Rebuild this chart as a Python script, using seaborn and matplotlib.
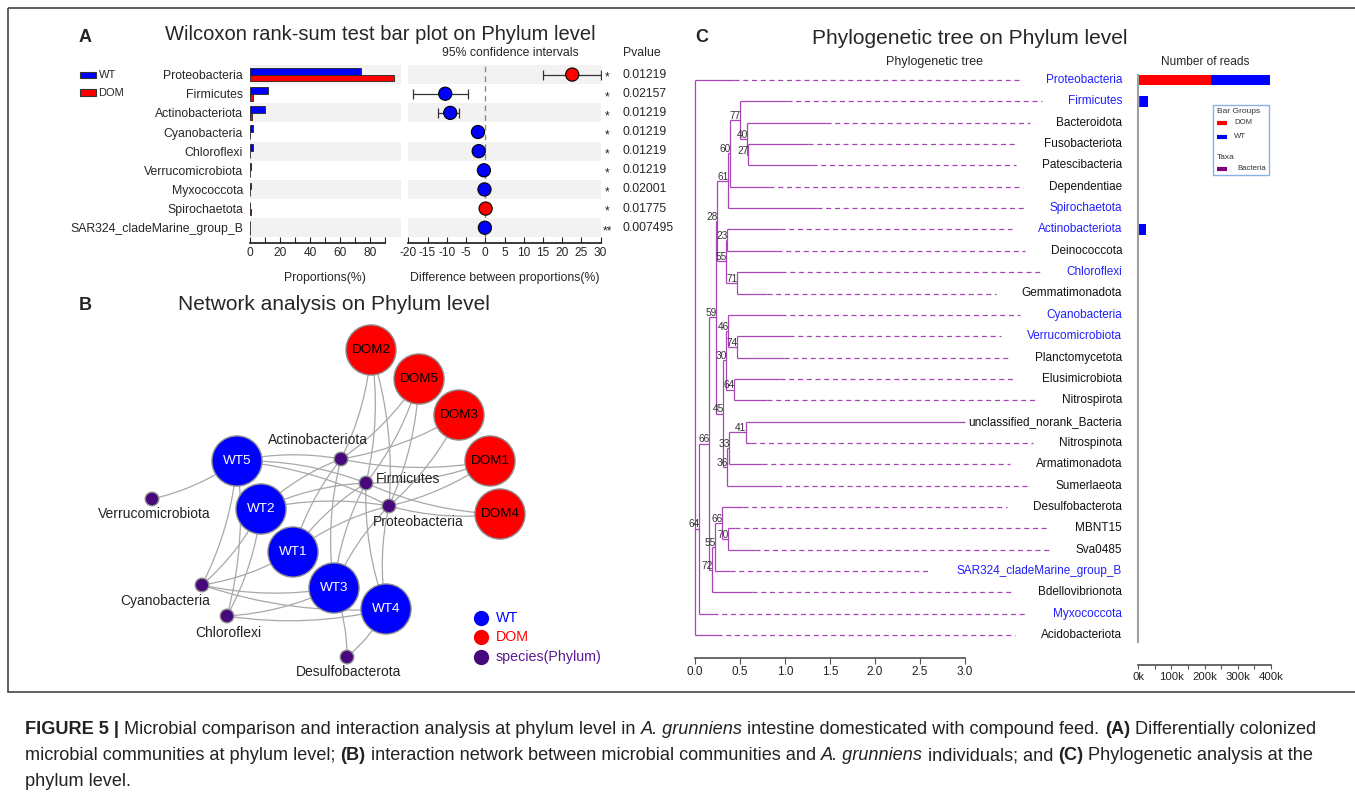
import numpy as np
import pandas as pd
import seaborn as sns
import matplotlib
matplotlib.use("Agg")
import matplotlib.pyplot as plt
from matplotlib.patches import Rectangle, FancyArrowPatch
from matplotlib.transforms import blended_transform_factory

# %% data - panel A (Wilcoxon rank-sum test)
phyla_a = ["Proteobacteria", "Firmicutes", "Actinobacteriota", "Cyanobacteria",
           "Chloroflexi", "Verrucomicrobiota", "Myxococcota", "Spirochaetota",
           "SAR324_cladeMarine_group_B"]
prop_wt = [73.8, 12.2, 10.0, 2.0, 1.8, 0.6, 0.5, 0.05, 0.15]
prop_dom = [96.0, 1.8, 1.1, 0.15, 0.1, 0.05, 0.05, 0.35, 0.02]
diff_mean = [22.6, -10.4, -9.1, -1.9, -1.7, -0.35, -0.2, 0.1, -0.1]
ci_low = [15.0, -18.8, -12.2, -2.3, -2.1, -0.6, -0.4, 0.0, -0.2]
ci_high = [30.0, -4.4, -6.8, -1.5, -1.3, -0.1, 0.0, 0.2, 0.0]
p_text = ["0.01219", "0.02157", "0.01219", "0.01219", "0.01219", "0.01219",
          "0.02001", "0.01775", "0.007495"]
p_stars = ["*", "*", "*", "*", "*", "*", "*", "*", "**"]

# %% data - panel B (network)
net_nodes = ["DOM2", "DOM5", "DOM3", "DOM1", "DOM4", "WT5", "WT2", "WT1", "WT3", "WT4",
             "Actinobacteriota", "Firmicutes", "Proteobacteria", "Verrucomicrobiota",
             "Cyanobacteria", "Chloroflexi", "Desulfobacterota"]
net_kind = ["DOM"] * 5 + ["WT"] * 5 + ["species"] * 7
node_x = [371, 419, 459, 490, 500, 237, 261, 293, 334, 386, 341, 366, 389, 152, 202, 227, 347]
node_y = [350, 379, 415, 461, 514, 461, 509, 552, 588, 609, 459, 483, 506, 499, 585, 616, 657]
link_species = ["Verrucomicrobiota", "Cyanobacteria", "Chloroflexi", "Desulfobacterota",
                "Actinobacteriota", "Firmicutes", "Proteobacteria"]
link_samples = [["WT5"],
                ["WT5", "WT2", "WT1", "WT3", "WT4"],
                ["WT5", "WT2", "WT3", "WT4"],
                ["WT3", "WT4"],
                ["WT5", "WT2", "WT1", "WT3", "DOM2", "DOM5", "DOM3", "DOM1"],
                ["WT5", "WT2", "WT1", "WT3", "WT4", "DOM2", "DOM5", "DOM1", "DOM4"],
                ["WT5", "WT2", "WT1", "WT3", "WT4", "DOM2", "DOM5", "DOM3", "DOM1", "DOM4"]]

# %% data - panel C (tree + reads)
tree_leaves = ["Proteobacteria", "Firmicutes", "Bacteroidota", "Fusobacteriota",
               "Patescibacteria", "Dependentiae", "Spirochaetota", "Actinobacteriota",
               "Deinococcota", "Chloroflexi", "Gemmatimonadota", "Cyanobacteria",
               "Verrucomicrobiota", "Planctomycetota", "Elusimicrobiota", "Nitrospirota",
               "unclassified_norank_Bacteria", "Nitrospinota", "Armatimonadota",
               "Sumerlaeota", "Desulfobacterota", "MBNT15", "Sva0485",
               "SAR324_cladeMarine_group_B", "Bdellovibrionota", "Myxococcota",
               "Acidobacteriota"]
tip_depth = [0.43, 1.02, 1.46, 1.26, 1.30, 0.82, 1.35, 0.94, 0.91, 0.96, 0.80, 0.96,
             1.04, 0.99, 0.94, 0.80, 3.0, 0.62, 0.74, 0.91, 0.53, 0.44, 0.67, 0.39,
             0.63, 0.20, 0.24]
node_id = ["n27", "n40", "n77", "n60", "n61", "n23", "n71", "n55a", "n28", "n74", "n46",
           "n64b", "n30", "n41", "n33", "n36", "n45", "n59", "n70", "n66b", "n55c",
           "n72", "n66", "n64", "root"]
node_depth = [0.589, 0.578, 0.50, 0.389, 0.363, 0.35, 0.463, 0.341, 0.241, 0.463, 0.37,
              0.437, 0.344, 0.563, 0.378, 0.352, 0.314, 0.236, 0.363, 0.297, 0.226,
              0.189, 0.152, 0.048, 0.0]
node_boot = ["27", "40", "77", "60", "61", "23", "71", "55", "28", "74", "46", "64", "30",
             "41", "33", "36", "45", "59", "70", "66", "55", "72", "66", "64", ""]
node_kids = [["Fusobacteriota", "Patescibacteria"], ["Bacteroidota", "n27"],
             ["Firmicutes", "n40"], ["n77", "Dependentiae"], ["n60", "Spirochaetota"],
             ["Actinobacteriota", "Deinococcota"], ["Chloroflexi", "Gemmatimonadota"],
             ["n23", "n71"], ["n61", "n55a"],
             ["Verrucomicrobiota", "Planctomycetota"], ["Cyanobacteria", "n74"],
             ["Elusimicrobiota", "Nitrospirota"], ["n46", "n64b"],
             ["unclassified_norank_Bacteria", "Nitrospinota"], ["n41", "Armatimonadota"],
             ["n33", "Sumerlaeota"], ["n30", "n36"], ["n28", "n45"],
             ["MBNT15", "Sva0485"], ["Desulfobacterota", "n70"],
             ["n66b", "SAR324_cladeMarine_group_B"], ["n55c", "Bdellovibrionota"],
             ["n59", "n72"], ["n66", "Myxococcota"],
             ["Proteobacteria", "n64", "Acidobacteriota"]]
# number of reads (k)
reads_dom = [219, 4, 0.3, 0.1, 0.1, 0.05, 0.4, 2.5, 0, 0.2, 0.1, 0.2, 0.1, 0.1, 0,
             0.05, 0, 0, 0, 0, 0.1, 0, 0, 0, 0.1, 0.1, 0.1]
reads_wt = [179, 26, 0.5, 0.2, 0.3, 0.2, 0.1, 20, 0.2, 2.5, 0.8, 3.0, 1.2, 0.5, 0.1,
            0.3, 0.1, 0.1, 0.2, 0.1, 0.6, 0.1, 0.1, 0.3, 0.6, 1.0, 0.7]

BLUE, RED, PURPLE = "#0000ff", "#ff0000", "#46087a"
TREE = "#a844b8"
PT = 72 / 100  # points per pixel at dpi 100

sns.set_theme(style="white")
plt.rcParams["font.family"] = ["Liberation Sans", "DejaVu Sans"]
plt.rcParams["axes.unicode_minus"] = False

W, H = 1355, 798
fig = plt.figure(figsize=(W / 100, H / 100), dpi=100)


def px_axes(x0, y0, x1, y1, z=1):
    ax = fig.add_axes([x0 / W, 1 - y1 / H, (x1 - x0) / W, (y1 - y0) / H], zorder=z)
    ax.patch.set_alpha(0)
    return ax


ov = px_axes(0, 0, W, H, z=10)
ov.set_xlim(0, W)
ov.set_ylim(H, 0)
ov.axis("off")
ov.add_patch(Rectangle((7.5, 8), W, 684, fill=False, ec="#444444", lw=1.2))

# %% Panel A - bars
n = len(phyla_a)
rows = np.arange(n)
dfa = pd.DataFrame({"phylum": phyla_a * 2,
                    "group": ["WT"] * n + ["DOM"] * n,
                    "value": prop_wt + prop_dom})
axb = px_axes(250, 65, 400.7, 237.3)
sns.barplot(data=dfa, x="value", y="phylum", hue="group", hue_order=["WT", "DOM"],
            palette={"WT": BLUE, "DOM": RED}, saturation=1, width=0.72,
            edgecolor="#222222", linewidth=0.6, errorbar=None, legend=False,
            orient="h", ax=axb)
for i in rows[::2]:
    axb.axhspan(i - 0.5, i + 0.5, color="#f2f2f2", zorder=0, lw=0)
axb.set_xlim(0, 100.5)
axb.set_ylim(n - 0.5, -0.5)
for s in ["left", "top", "right"]:
    axb.spines[s].set_visible(False)
axb.spines["bottom"].set_position(("outward", 6 * PT))
axb.spines["bottom"].set_bounds(0, 90)
axb.spines["bottom"].set_color("#222222")
axb.set_xticks(np.arange(0, 91, 10))
axb.set_xticklabels([str(v) if v % 20 == 0 else "" for v in range(0, 91, 10)])
axb.tick_params(axis="x", bottom=True, direction="in", length=4, width=0.8,
                labelsize=8.6, pad=3, color="#222222")
axb.tick_params(axis="y", length=0, pad=5, labelsize=8.8)
axb.set_ylabel("")
axb.set_xlabel("Proportions(%)", fontsize=8.8, labelpad=9)

# %% Panel A - confidence intervals
axc = px_axes(408.3, 65, 600.7, 237.3)
for i in rows[::2]:
    axc.axhspan(i - 0.5, i + 0.5, color="#f2f2f2", zorder=0, lw=0)
axc.axvline(0, color="#8a8a8a", lw=1, ls=(0, (4, 3)), zorder=1)
d = np.array(diff_mean)
axc.errorbar(d, rows, xerr=[d - np.array(ci_low), np.array(ci_high) - d], fmt="none",
             ecolor="#333333", elinewidth=0.9, capsize=3.6, capthick=0.9, zorder=2)
direction = ["DOM" if v > 0 else "WT" for v in diff_mean]
sns.scatterplot(x=d, y=rows, hue=direction, palette={"WT": BLUE, "DOM": RED}, s=90,
                edgecolor="black", linewidth=0.8, legend=False, zorder=3, ax=axc)
axc.set_xlim(-20, 30)
axc.set_ylim(n - 0.5, -0.5)
axc.set_yticks([])
for s in ["left", "top", "right"]:
    axc.spines[s].set_visible(False)
axc.spines["bottom"].set_position(("outward", 6 * PT))
axc.spines["bottom"].set_color("#222222")
axc.set_xticks(np.arange(-20, 31, 5))
axc.tick_params(axis="x", bottom=True, direction="in", length=4, width=0.8,
                labelsize=8.6, pad=3, color="#222222")
axc.set_xlabel("Difference between proportions(%)", fontsize=8.8, labelpad=9)
tr = blended_transform_factory(axc.transAxes, axc.transData)
for i in rows:
    axc.text(1.034, i + 0.17, p_stars[i], transform=tr, ha="center", va="center",
             fontsize=8.8, clip_on=False)
    axc.text(1.114, i, p_text[i], transform=tr, ha="left", va="center",
             fontsize=8.8, clip_on=False)

ov.text(510, 53, "95% confidence intervals", ha="center", va="center", fontsize=8.8)
ov.text(622.7, 53, "Pvalue", ha="left", va="center", fontsize=8.8)
ov.text(85, 38, "A", ha="center", va="center", fontsize=13, fontweight="bold")
ov.text(380, 35, "Wilcoxon rank-sum test bar plot on Phylum level", ha="center",
        va="center", fontsize=14.5)
for yy, col, lab in [(75, BLUE, "WT"), (92.5, RED, "DOM")]:
    ov.add_patch(Rectangle((79.5, yy - 3.3), 16.5, 6.6, fc=col, ec="#333333", lw=0.8))
    ov.text(98.5, yy, lab, ha="left", va="center", fontsize=8)

# %% Panel B - network
axn = px_axes(60, 315, 620, 690)
pos = {nm: (x, y) for nm, x, y in zip(net_nodes, node_x, node_y)}
for sp, targets in zip(link_species, link_samples):
    for t in targets:
        axn.add_patch(FancyArrowPatch(pos[sp], pos[t], arrowstyle="-",
                                      connectionstyle="arc3,rad=0.1", color="#a8a8a8",
                                      lw=0.9, shrinkA=0, shrinkB=0, zorder=1))
dfn = pd.DataFrame({"node": net_nodes, "kind": net_kind, "x": node_x, "y": node_y})
sns.scatterplot(data=dfn, x="x", y="y", hue="kind", size="kind",
                sizes={"WT": 1300, "DOM": 1300, "species": 95},
                palette={"WT": BLUE, "DOM": RED, "species": PURPLE},
                edgecolor="#8c8c8c", linewidth=1, legend=False, zorder=3, ax=axn)
axn.set_xlim(60, 620)
axn.set_ylim(690, 315)
axn.axis("off")
for nm, k, x, y in zip(net_nodes, net_kind, node_x, node_y):
    if k != "species":
        axn.text(x, y, nm, ha="center", va="center", fontsize=9.7, zorder=4,
                 color="white" if k == "WT" else "black")
lab_off = {"Actinobacteriota": (-23, -19, "center"), "Firmicutes": (10, -4, "left"),
           "Proteobacteria": (29, 16, "center"), "Verrucomicrobiota": (2.5, 15, "center"),
           "Cyanobacteria": (-37, 16, "center"), "Chloroflexi": (1.5, 17, "center"),
           "Desulfobacterota": (2, 15, "center")}
for nm, (dx, dy, ha) in lab_off.items():
    axn.text(pos[nm][0] + dx, pos[nm][1] + dy, nm, ha=ha, va="center",
             fontsize=10, color="#222222", zorder=4)
for yy, col, lab, tc in [(617.7, BLUE, "WT", BLUE), (637.3, RED, "DOM", RED),
                         (656.7, PURPLE, "species(Phylum)", "#5a1a94")]:
    ov.scatter([481.4], [yy], s=100, color=col, zorder=5)
    ov.text(495.7, yy, lab, ha="left", va="center", fontsize=10.3, color=tc)
ov.text(85, 305, "B", ha="center", va="center", fontsize=13, fontweight="bold")
ov.text(334, 305, "Network analysis on Phylum level", ha="center", va="center",
        fontsize=15)

# %% Panel C - tree
axt = px_axes(688, 70, 1125, 645)
axt.set_xlim((688 - 695) / 90, (1125 - 695) / 90)
axt.set_ylim((645 - 80) / 21.35, (70 - 80) / 21.35)
ypos = {nm: i for i, nm in enumerate(tree_leaves)}
depth = dict(zip(tree_leaves, tip_depth))
depth.update(zip(node_id, node_depth))
for nid, kids in zip(node_id, node_kids):
    ypos[nid] = np.mean([ypos[k] for k in kids])

label_x = (1122 - 695) / 90
labels = {}
for i, nm in enumerate(tree_leaves):
    labels[nm] = axt.text(label_x, i, nm, ha="right", va="center", fontsize=8.5,
                          color="#1f1fff" if nm in phyla_a else "#111111")
fig.canvas.draw()
r = fig.canvas.get_renderer()
inv = axt.transData.inverted()

for nid, kids in zip(node_id, node_kids):
    x0 = depth[nid]
    ys = [ypos[k] for k in kids]
    axt.plot([x0, x0], [min(ys), max(ys)], color=TREE, lw=0.9, solid_capstyle="butt")
    for k in kids:
        axt.plot([x0, depth[k]], [ypos[k], ypos[k]], color=TREE, lw=0.9,
                 solid_capstyle="butt")
        if k in labels:
            left = inv.transform((labels[k].get_window_extent(r).x0, 0))[0]
            end = left - 26 / 90
            if end > depth[k]:
                axt.plot([depth[k], end], [ypos[k], ypos[k]], color=TREE, lw=0.9,
                         ls=(0, (4, 3)))
    if node_boot[node_id.index(nid)]:
        axt.annotate(node_boot[node_id.index(nid)], (x0, ypos[nid]),
                     xytext=(0.6, 3.0), textcoords="offset points", ha="right",
                     va="center", fontsize=7.3, color="#333333")

for s in ["left", "top", "right"]:
    axt.spines[s].set_visible(False)
axt.spines["bottom"].set_position(("outward", 13 * PT))
axt.spines["bottom"].set_bounds(0, 3)
axt.spines["bottom"].set_color("#555555")
axt.set_yticks([])
axt.set_xticks(np.arange(0, 3.01, 0.5))
axt.set_xticklabels([f"{v:.1f}" for v in np.arange(0, 3.01, 0.5)])
axt.tick_params(axis="x", bottom=True, direction="out", length=4, width=0.8,
                labelsize=8.5, pad=2, color="#555555", labelcolor="#222222")

# %% Panel C - reads
axr = px_axes(1138.3, 70, 1300, 645)
reads_total = [a + b for a, b in zip(reads_dom, reads_wt)]
sns.barplot(x=reads_total, y=tree_leaves, orient="h", color=BLUE, saturation=1,
            width=0.5, linewidth=0, ax=axr)
sns.barplot(x=reads_dom, y=tree_leaves, orient="h", color=RED, saturation=1,
            width=0.5, linewidth=0, ax=axr)
axr.set_xlim(0, 161.7 / 0.331)
axr.set_ylim((645 - 80) / 21.35, (70 - 80) / 21.35)
axr.set_yticks([])
axr.set_ylabel("")
for s in ["top", "right"]:
    axr.spines[s].set_visible(False)
axr.spines["left"].set_color("#a0a0a0")
axr.spines["left"].set_linewidth(1.5)
axr.spines["left"].set_bounds(-0.25, 26.3)
axr.spines["bottom"].set_position(("outward", 20 * PT))
axr.spines["bottom"].set_bounds(0, 400)
axr.spines["bottom"].set_color("#555555")
axr.set_xticks(np.arange(0, 401, 50))
axr.set_xticklabels([f"{int(v)}k" if v % 100 == 0 else "" for v in np.arange(0, 401, 50)])
axr.tick_params(axis="x", bottom=True, direction="out", length=3, width=0.8,
                labelsize=8.2, pad=2, color="#555555", labelcolor="#222222")

ov.add_patch(Rectangle((1212.7, 105), 56.6, 70, fc="white", ec="#8ab0ea", lw=1))
ov.text(1217, 111.7, "Bar Groups", ha="left", va="center", fontsize=6, color="#333333")
ov.text(1217, 157.7, "Taxa", ha="left", va="center", fontsize=6, color="#333333")
for yy, col, lab, tx in [(123, RED, "DOM", 1234), (136.7, BLUE, "WT", 1234),
                         (169, "#800080", "Bacteria", 1237)]:
    ov.plot([1217, 1227], [yy, yy], color=col, lw=3, solid_capstyle="butt")
    ov.text(tx, yy, lab, ha="left", va="center", fontsize=5.6, color="#333333")

ov.text(702, 38, "C", ha="center", va="center", fontsize=13, fontweight="bold")
ov.text(970, 38, "Phylogenetic tree on Phylum level", ha="center", va="center",
        fontsize=15)
ov.text(935, 62, "Phylogenetic tree", ha="center", va="center", fontsize=9)
ov.text(1205, 62, "Number of reads", ha="center", va="center", fontsize=8.6)

# %% caption
cap_lines = [
    [("FIGURE 5 |", "b"),
     (" Microbial comparison and interaction analysis at phylum level in ", "n"),
     ("A. grunniens", "i"), (" intestine domesticated with compound feed. ", "n"),
     ("(A)", "b"), (" Differentially colonized", "n")],
    [("microbial communities at phylum level; ", "n"), ("(B)", "b"),
     (" interaction network between microbial communities and ", "n"),
     ("A. grunniens", "i"), (" individuals; and ", "n"), ("(C)", "b"),
     (" Phylogenetic analysis at the", "n")],
    [("phylum level.", "n")],
]
cap_family = ["Liberation Sans Narrow", "Liberation Sans", "DejaVu Sans"]


def run_kw(style, size):
    return dict(fontsize=size, family=cap_family,
                fontweight="bold" if style == "b" else "normal",
                fontstyle="italic" if style == "i" else "normal")


def text_w(s, style, size):
    t1 = ov.text(0, 0, "|" + s + "|", **run_kw(style, size))
    t2 = ov.text(0, 0, "||", **run_kw(style, size))
    w = t1.get_window_extent(r).width - t2.get_window_extent(r).width
    t1.remove()
    t2.remove()
    return w


base = 12.5
w0 = sum(text_w(s, st, base) for s, st in cap_lines[0])
cap_size = base * 1300 / w0
for line, yy in zip(cap_lines, [730, 756, 782]):
    x = 25
    for s, st in line:
        ov.text(x, yy, s, ha="left", va="center", color="#222222", **run_kw(st, cap_size))
        x += text_w(s, st, cap_size)

fig.savefig("out.png", dpi=100)
